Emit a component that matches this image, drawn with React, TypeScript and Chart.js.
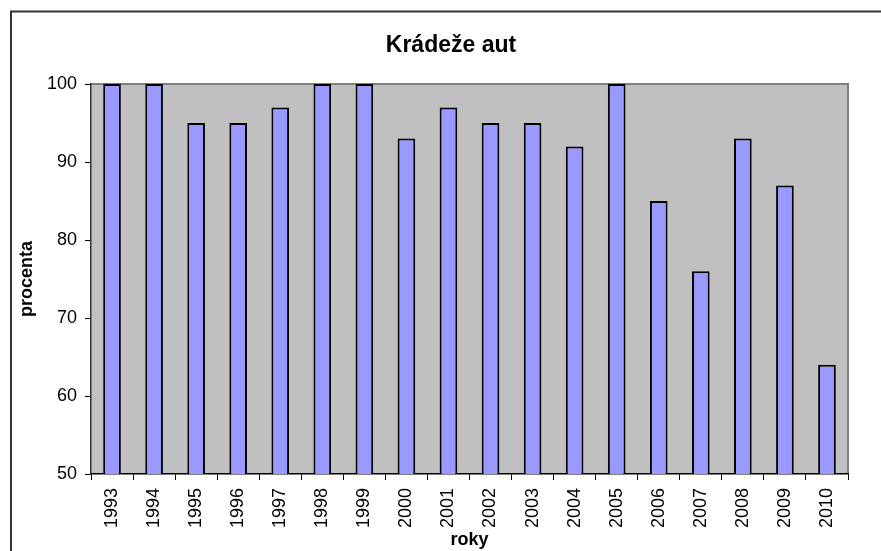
import React, { useEffect, useRef } from "react";
import { Chart, registerables } from "chart.js";

Chart.register(...registerables);

const years = ["1993","1994","1995","1996","1997","1998","1999","2000","2001","2002","2003","2004","2005","2006","2007","2008","2009","2010"];
const percent = [100,100,95,95,97,100,100,93,97,95,95,92,100,85,76,93,87,64];
const chartTitle = "Krádeže aut";
const xTitle = "roky";
const yTitle = "procenta";

const FONT = "'Liberation Sans', Arial, sans-serif";

const framePlugin = {
  id: "frame",
  beforeDraw(chart: any) {
    const { ctx, chartArea: a } = chart;
    ctx.save();
    ctx.fillStyle = "#ffffff";
    ctx.fillRect(0, 0, chart.width, chart.height);
    ctx.fillStyle = "#C0C0C0";
    ctx.fillRect(a.left, a.top, a.right - a.left, a.bottom - a.top);
    ctx.strokeStyle = "#808080";
    ctx.lineWidth = 2;
    ctx.beginPath();
    ctx.moveTo(a.left, a.top);
    ctx.lineTo(a.right, a.top);
    ctx.lineTo(a.right, a.bottom);
    ctx.stroke();
    ctx.fillStyle = "#000";
    ctx.font = `bold 23px ${FONT}`;
    ctx.textAlign = "center";
    ctx.textBaseline = "middle";
    ctx.fillText(chartTitle, 451, 46);
    ctx.restore();
  },
  afterDraw(chart: any) {
    const { ctx } = chart;
    ctx.save();
    ctx.strokeStyle = "#333333";
    ctx.lineWidth = 2;
    ctx.strokeRect(11, 11.5, 1000, 1000);
    ctx.restore();
  },
};

export default function App() {
  const ref = useRef<HTMLCanvasElement>(null);
  useEffect(() => {
    const chart = new Chart(ref.current!, {
      type: "bar",
      data: {
        labels: years,
        datasets: [
          {
            data: percent,
            backgroundColor: "#9999FF",
            borderColor: "#000000",
            borderWidth: 2,
            borderSkipped: false,
            categoryPercentage: 1,
            barPercentage: 0.42,
          },
        ],
      },
      options: {
        responsive: false,
        animation: false,
        layout: { padding: { left: 0, right: 33, top: 84, bottom: 0 } },
        plugins: {
          legend: { display: false },
          tooltip: { enabled: false },
          title: { display: false },
        },
        scales: {
          x: {
            afterFit: (s: any) => { s.height = 77; },
            grid: { display: true, drawOnChartArea: false, drawTicks: true, tickLength: 6, color: "#000", offset: true },
            border: { display: true, color: "#000", width: 1.5 },
            ticks: {
              color: "#000",
              font: { family: FONT, size: 18 },
              minRotation: 90,
              maxRotation: 90,
              autoSkip: false,
              padding: 8,
            },
            title: {
              display: true,
              text: xTitle,
              color: "#000",
              font: { family: FONT, size: 18, weight: "bold" },
              padding: { top: 0, bottom: 0 },
            },
          },
          y: {
            min: 50,
            max: 100,
            afterFit: (s: any) => { s.width = 91; },
            grid: { display: true, drawOnChartArea: false, drawTicks: true, tickLength: 6, color: "#000" },
            border: { display: true, color: "#333", width: 1.5 },
            ticks: {
              stepSize: 10,
              color: "#000",
              font: { family: FONT, size: 18 },
              padding: 8,
            },
            title: {
              display: true,
              text: yTitle,
              color: "#000",
              font: { family: FONT, size: 18, weight: "bold" },
              padding: { top: 16, bottom: 0 },
            },
          },
        },
      },
      plugins: [framePlugin],
    });
    return () => chart.destroy();
  }, []);
  return (
    <div style={{ position: "absolute", left: 0, top: 0, width: 881, height: 551 }}>
      <canvas ref={ref} width={881} height={551} style={{ display: "block" }} />
    </div>
  );
}
